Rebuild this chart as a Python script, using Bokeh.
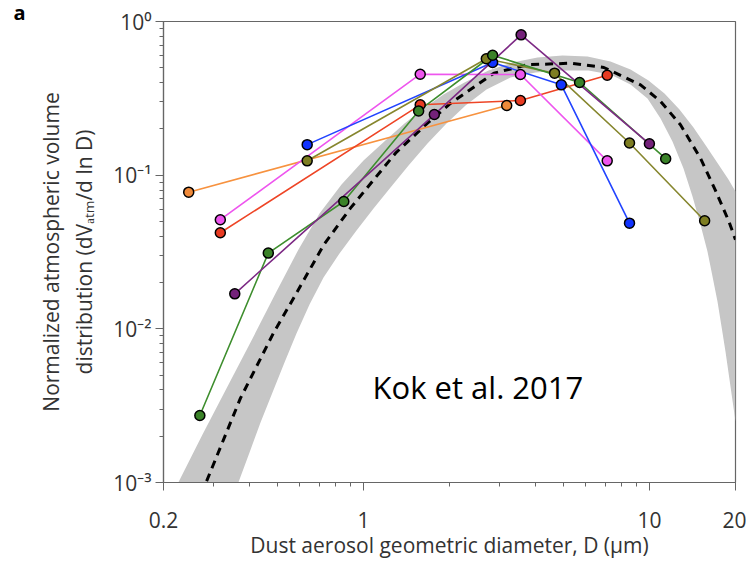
from bokeh.plotting import figure
from bokeh.models import FixedTicker, CustomJSTickFormatter, Label
from bokeh.embed import file_html
from bokeh.resources import INLINE

# ---------------- data ----------------
x_ticks = [0.2, 1, 10, 20]
x_minor = [0.3, 0.4, 0.5, 0.6, 0.7, 0.8, 0.9, 2, 3, 4, 5, 6, 7, 8, 9]
y_ticks = [0.001, 0.01, 0.1, 1]
y_minor = [m * 10.0 ** e for e in (-3, -2, -1) for m in range(2, 10)]

# Kok et al. 2017 band: upper edge (left -> right)
band_up_d = [0.2256, 0.2738, 0.3348, 0.4096, 0.4968, 0.5930, 0.7024, 0.8386, 1.0008, 1.194,
             1.392, 1.622, 1.906, 2.256, 2.738, 3.322, 4.062, 4.968, 6.076, 7.310, 8.591,
             9.929, 11.29, 12.74, 14.26, 15.83, 17.44, 18.90, 20.0]
band_up_v = [0.001002, 0.002055, 0.004219, 0.008661, 0.01751, 0.03285, 0.05633, 0.08700,
             0.1246, 0.1681, 0.2170, 0.2716, 0.3350, 0.4010, 0.4800, 0.5410, 0.5831, 0.6008,
             0.5918, 0.5492, 0.4872, 0.4133, 0.3400, 0.2676, 0.2044, 0.1537, 0.1174, 0.09376,
             0.07833]
# lower edge (right -> left)
band_lo_d = [20.0, 19.21, 18.45, 17.87, 17.30, 16.62, 15.96, 15.08, 14.15, 13.16, 12.04, 10.94,
             9.848, 8.591, 7.310, 6.124, 4.888, 3.996, 3.268, 2.694, 2.275, 1.952, 1.675,
             1.438, 1.244, 1.085, 0.9460, 0.8248, 0.7254, 0.6480, 0.5834, 0.5298, 0.4810,
             0.4368, 0.3998, 0.3658]
band_lo_v = [0.002498, 0.004219, 0.007128, 0.01036, 0.01508, 0.02193, 0.03189, 0.04777, 0.07268,
             0.1106, 0.1657, 0.2338, 0.3155, 0.3892, 0.4519, 0.4800, 0.4800, 0.4658, 0.4322,
             0.3610, 0.2841, 0.2170, 0.1608, 0.1157, 0.08318, 0.06073, 0.04366, 0.03094,
             0.02160, 0.01441, 0.009334, 0.006045, 0.003856, 0.002460, 0.001570, 0.001002]

# Kok et al. 2017 median (dashed)
med_d = [0.283, 0.3717, 0.486, 0.579, 0.727, 0.901, 1.295, 1.671, 2.02, 2.86, 3.74,
         5.30, 6.93, 9.31, 10.94, 12.84, 15.08, 17.0, 18.96, 20.0]
med_v = [0.00102, 0.00354, 0.00948, 0.01667, 0.03525, 0.061, 0.139, 0.217, 0.294,
         0.461, 0.523, 0.535, 0.502, 0.387, 0.302, 0.2128, 0.129, 0.080, 0.050, 0.038]

orange_d = [0.245, 3.17]
orange_v = [0.0775, 0.284]
red_d = [0.316, 1.58, 3.54, 7.12]
red_v = [0.0422, 0.287, 0.306, 0.447]
magenta_d = [0.316, 1.58, 3.54, 7.12]
magenta_v = [0.0513, 0.454, 0.452, 0.124]
blue_d = [0.636, 2.83, 4.92, 8.52]
blue_v = [0.158, 0.541, 0.387, 0.0487]
olive_d = [0.636, 2.69, 4.66, 8.52, 15.6]
olive_v = [0.124, 0.572, 0.461, 0.162, 0.0505]
green_d = [0.268, 0.465, 0.854, 1.56, 2.83, 5.70, 11.4]
green_v = [0.00273, 0.0311, 0.0674, 0.262, 0.603, 0.401, 0.128]
purple_d = [0.355, 1.77, 3.56, 10.0]
purple_v = [0.0169, 0.248, 0.819, 0.160]

series = [
    (orange_d, orange_v, "#F7923F", "#F08A3A"),
    (red_d, red_v, "#EE4526", "#E83B22"),
    (magenta_d, magenta_v, "#EE55EE", "#EE55EE"),
    (blue_d, blue_v, "#2244FF", "#1133FF"),
    (olive_d, olive_v, "#86862E", "#7E7E22"),
    (green_d, green_v, "#3E8E2E", "#3A8228"),
    (purple_d, purple_v, "#7D2A85", "#74227A"),
]

FONT = "Open Sans"
TXT = "#333333"

p = figure(x_axis_type="log", y_axis_type="log",
           x_range=(0.2, 20), y_range=(0.001, 1),
           frame_width=572, frame_height=461,
           min_border_left=163, min_border_right=11, min_border_top=20, min_border_bottom=83,
           output_backend="svg", toolbar_location=None)
p.grid.visible = False
p.outline_line_color = "#666666"
p.outline_line_width = 1.2
p.background_fill_color = "white"
p.border_fill_color = "white"

p.title.text = "a"
p.title.text_font = FONT
p.title.text_font_style = "bold"
p.title.text_font_size = "20px"
p.title.text_color = "black"
p.title.align = "left"
p.title.offset = -150
p.title.standoff = -8

# band + median
p.patch(band_up_d + band_lo_d, band_up_v + band_lo_v, fill_color="#C6C6C6", line_color=None)
p.line(med_d, med_v, line_color="black", line_width=3, line_dash="8 6")

for d, v, lc, fc in series:
    p.line(d, v, line_color=lc, line_width=1.6)
for d, v, lc, fc in series:
    p.scatter(d, v, size=10, fill_color=fc, line_color="black", line_width=1.5)

# axes
xa = p.xaxis[0]
xa.ticker = FixedTicker(ticks=x_ticks, minor_ticks=x_minor)
xa.formatter = CustomJSTickFormatter(code="return String(tick);")
ya = p.yaxis[0]
ya.ticker = FixedTicker(ticks=y_ticks, minor_ticks=y_minor)
ya.formatter = CustomJSTickFormatter(code="""
const e = Math.round(Math.log10(tick));
const sup = {'0':'\u2070','1':'\u00b9','2':'\u00b2','3':'\u00b3','-':'\u207b'};
return '10' + String(e).split('').map(c => sup[c]).join('');
""")
for ax in (xa, ya):
    ax.axis_line_color = "#666666"
    ax.axis_line_width = 1.2
    ax.major_tick_line_color = "#666666"
    ax.minor_tick_line_color = "#666666"
    ax.major_tick_in = 0
    ax.major_tick_out = 8
    ax.minor_tick_in = 0
    ax.minor_tick_out = 4
    ax.major_label_text_font = FONT
    ax.major_label_text_font_size = "21px"
    ax.major_label_text_color = TXT
    ax.axis_label_text_font = FONT
    ax.axis_label_text_font_size = "21px"
    ax.axis_label_text_font_style = "normal"
    ax.axis_label_text_color = TXT

xa.major_label_standoff = 21
xa.axis_label = "Dust aerosol geometric diameter, D (\u03bcm)"
xa.axis_label_standoff = 0
ya.major_label_standoff = 4
ya.axis_label = "Normalized atmospheric volume\ndistribution (dV\u2090\u209c\u2098/d ln D)"
ya.axis_label_standoff = 12

p.add_layout(Label(x=1.077, y=0.00416, text="Kok et al. 2017", text_font=FONT,
                   text_font_size="31px", text_color="black", text_baseline="alphabetic"))

open("out.html", "w").write(file_html(p, INLINE))
